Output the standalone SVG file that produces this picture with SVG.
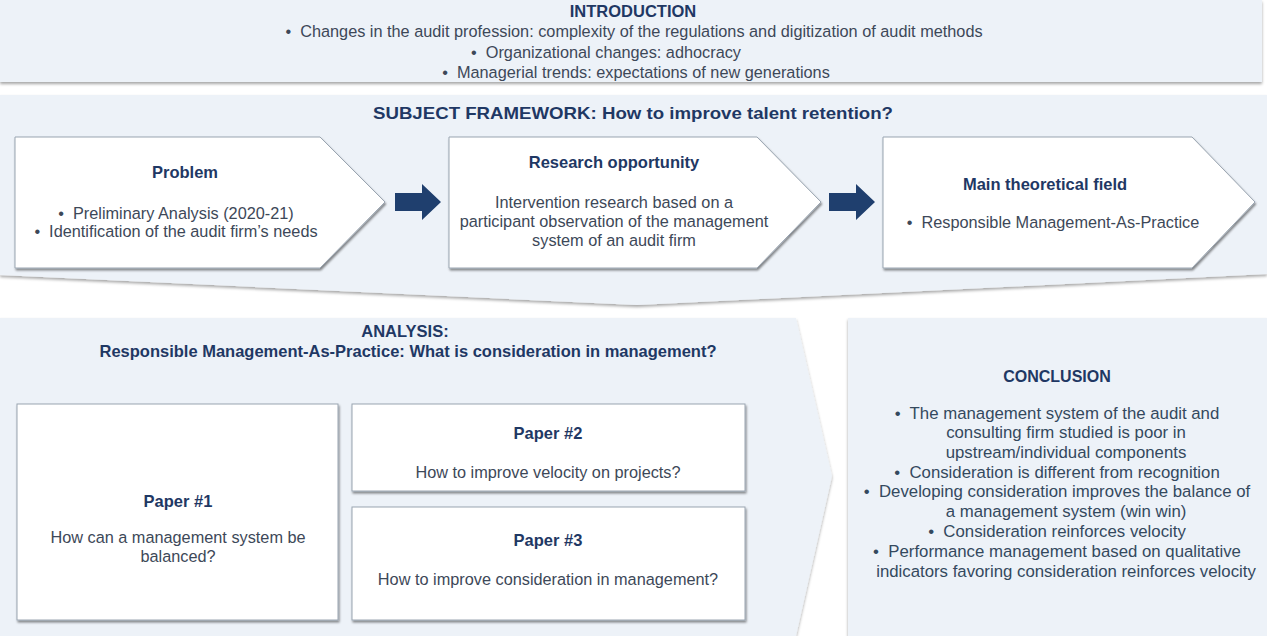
<svg xmlns="http://www.w3.org/2000/svg" width="1267" height="636" viewBox="0 0 1267 636">
<defs>
<filter id="sh" x="-5%" y="-5%" width="110%" height="120%">
<feDropShadow dx="1" dy="2" stdDeviation="1.2" flood-color="#000" flood-opacity="0.45"/>
</filter>
<filter id="psh" x="-5%" y="-5%" width="110%" height="120%">
<feDropShadow dx="0" dy="2" stdDeviation="1.5" flood-color="#000" flood-opacity="0.35"/>
</filter>
</defs>
<style>
.panel{fill:#edf2f8;}
.box{fill:#ffffff;stroke:#9aa5b1;stroke-width:1;}
.arrow{fill:#1f3f6e;}
text{font-family:"Liberation Sans",Arial,sans-serif;text-anchor:middle;}
.t{font-weight:bold;fill:#1f3864;font-size:16.5px;}
.b{fill:#3d4858;font-size:16.3px;}
.c{fill:#34495e;font-size:16.8px;}
</style>
<rect width="1267" height="636" fill="#ffffff"/>

<g id="introduction">
<rect class="panel" x="0" y="0" width="1262" height="82" filter="url(#psh)"/>
<text class="t" x="633" y="17">INTRODUCTION</text>
<text class="b" x="634" y="37">•&#160; Changes in the audit profession: complexity of the regulations and digitization of audit methods</text>
<text class="b" x="606" y="58">•&#160; Organizational changes: adhocracy</text>
<text class="b" x="636" y="78">•&#160; Managerial trends: expectations of new generations</text>
</g>

<g id="subject-framework">
<polygon class="panel" points="0,95 1267,95 1267,274 637,305 0,275" filter="url(#psh)"/>
<text class="t" x="633" y="119" textLength="520" lengthAdjust="spacingAndGlyphs">SUBJECT FRAMEWORK: How to improve talent retention?</text>
</g>

<g id="problem">
<polygon class="box" points="15,137 320,137 385,202 320,268 15,268" filter="url(#sh)"/>
<text class="t" x="185" y="178">Problem</text>
<text class="b" x="176" y="219">•&#160; Preliminary Analysis (2020-21)</text>
<text class="b" x="176" y="237">•&#160; Identification of the audit firm’s needs</text>
</g>

<g id="research-opportunity">
<polygon class="box" points="449,137 757,137 821,202 757,268 449,268" filter="url(#sh)"/>
<text class="t" x="614" y="168">Research opportunity</text>
<text class="b" x="614" y="208">Intervention research based on a</text>
<text class="b" x="614" y="227">participant observation of the management</text>
<text class="b" x="614" y="246">system of an audit firm</text>
</g>

<g id="main-theoretical-field">
<polygon class="box" points="883,137 1192,137 1255,202 1192,268 883,268" filter="url(#sh)"/>
<text class="t" x="1045" y="190">Main theoretical field</text>
<text class="b" x="1053" y="228">•&#160; Responsible Management-As-Practice</text>
</g>

<g id="connectors">
<polygon class="arrow" points="395,193 422,193 422,184 441,202 422,220 422,211 395,211"/>
<polygon class="arrow" points="829,193 856,193 856,184 875,202 856,220 856,211 829,211"/>
</g>

<g id="analysis">
<polygon class="panel" points="0,318 796,318 832,476 796,636 0,636" filter="url(#psh)"/>
<text class="t" x="405" y="337">ANALYSIS:</text>
<text class="t" x="408" y="357">Responsible Management-As-Practice: What is consideration in management?</text>
</g>

<g id="paper-1">
<rect class="box" x="17" y="404" width="321" height="216" filter="url(#sh)"/>
<text class="t" x="178" y="507">Paper #1</text>
<text class="b" x="178" y="543">How can a management system be</text>
<text class="b" x="178" y="562">balanced?</text>
</g>

<g id="paper-2">
<rect class="box" x="352" y="404" width="393" height="87" filter="url(#sh)"/>
<text class="t" x="548" y="439">Paper #2</text>
<text class="b" x="548" y="478">How to improve velocity on projects?</text>
</g>

<g id="paper-3">
<rect class="box" x="352" y="507" width="393" height="113" filter="url(#sh)"/>
<text class="t" x="548" y="546">Paper #3</text>
<text class="b" x="548" y="585">How to improve consideration in management?</text>
</g>

<g id="conclusion">
<rect class="panel" x="848" y="318" width="419" height="318" filter="url(#psh)"/>
<text class="t" x="1057" y="382" style="font-size:16px">CONCLUSION</text>
<text class="c" x="1057" y="419">•&#160; The management system of the audit and</text>
<text class="c" x="1066" y="438">consulting firm studied is poor in</text>
<text class="c" x="1066" y="458">upstream/individual components</text>
<text class="c" x="1057" y="478">•&#160; Consideration is different from recognition</text>
<text class="c" x="1057" y="497">•&#160; Developing consideration improves the balance of</text>
<text class="c" x="1066" y="517">a management system (win win)</text>
<text class="c" x="1057" y="537">•&#160; Consideration reinforces velocity</text>
<text class="c" x="1057" y="557">•&#160; Performance management based on qualitative</text>
<text class="c" x="1066" y="577">indicators favoring consideration reinforces velocity</text>
</g>
</svg>
